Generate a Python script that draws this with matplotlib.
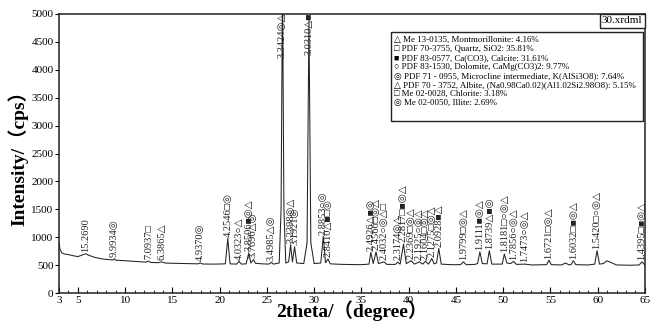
import numpy as np
import matplotlib
matplotlib.use("Agg")
import matplotlib.pyplot as plt
from matplotlib.patches import Rectangle

# XRD pattern, points (2theta in degrees, intensity in cps)
two_theta = [3.0, 3.1, 3.3, 3.6, 4.0, 4.5, 5.0, 5.4, 5.8, 6.2,
             6.8, 7.5, 8.3, 8.7, 8.85, 9.0, 9.6, 10.5, 11.5, 12.2,
             12.47, 12.7, 13.5, 13.86, 14.2, 15.0, 16.5, 17.7, 17.95, 18.2,
             19.5, 20.6, 20.86, 21.1, 21.8, 22.03, 22.3, 22.8, 23.08, 23.3,
             23.58, 23.8, 24.5, 25.2, 25.44, 25.7, 26.3, 26.5, 26.65, 26.8,
             27.0, 27.3, 27.51, 27.7, 27.93, 28.15, 28.9, 29.25, 29.45, 29.65,
             30.0, 30.7, 30.97, 31.2, 31.46, 31.7, 33.0, 35.0, 35.8, 36.0,
             36.25, 36.55, 36.8, 37.39, 37.7, 38.6, 38.83, 39.1, 39.46, 39.75,
             40.28, 40.6, 41.14, 41.5, 41.77, 42.1, 42.45, 42.7, 42.95, 43.19,
             43.45, 44.5, 45.5, 45.79, 46.1, 47.0, 47.3, 47.54, 47.8, 48.3,
             48.54, 48.8, 49.9, 50.13, 50.4, 50.8, 51.11, 51.4, 52.31, 53.0,
             54.6, 54.86, 55.1, 56.2, 56.6, 57.0, 57.2, 57.43, 57.7, 59.0,
             59.7, 59.94, 60.2, 60.6, 61.0, 61.4, 62.0, 63.5, 64.4, 64.7,
             65.0]
intensity = [900, 790, 720, 700, 690, 670, 655, 680, 705, 675,
             640, 615, 600, 595, 615, 590, 585, 575, 565, 555,
             575, 550, 545, 560, 540, 535, 530, 525, 540, 522,
             520, 525, 980, 525, 520, 570, 520, 525, 720, 540,
             600, 535, 525, 520, 550, 520, 540, 1500, 5600, 1500,
             540, 560, 860, 560, 830, 540, 530, 900, 4900, 900,
             530, 540, 1020, 545, 610, 525, 515, 510, 520, 730,
             530, 740, 530, 560, 515, 515, 555, 520, 880, 530,
             580, 520, 560, 520, 570, 520, 620, 525, 540, 800,
             520, 510, 510, 560, 510, 515, 530, 740, 530, 525,
             760, 520, 520, 700, 540, 530, 570, 515, 520, 505,
             510, 590, 510, 505, 540, 505, 515, 580, 510, 505,
             520, 760, 520, 530, 580, 550, 505, 500, 505, 560,
             505]

peak_pos = [5.79, 8.85, 12.47, 13.86, 17.95, 20.86, 22.03, 23.08, 23.58, 25.44,
            26.65, 27.51, 27.93, 29.45, 30.97, 31.46, 36.0, 36.55, 37.39, 38.83,
            39.46, 40.28, 41.14, 41.77, 42.45, 43.19, 45.79, 47.54, 48.54, 50.13,
            51.11, 52.31, 54.86, 57.43, 59.94, 64.7]
peak_labels = ["15.2690", "9.9934◎", "7.0937□", "6.3865△", "4.9370◎",
               "4.2546□◎", "4.0323○△", "3.8506■◎△", "3.7696△◎", "3.4985△◎",
               "3.3424◎△", "3.2398◎△", "3.1921◎", "3.0310△■", "2.8853○◎",
               "2.8410△■□◎", "2.4926△■◎", "2.4566□◎△", "2.4032○◎△□", "2.3174◎△",
               "2.2817□■◎△", "2.2369□◎△", "2.1925○◎△", "2.1604□◎△", "2.1275□◎△",
               "2.0928■△", "1.9799□◎△", "1.9111■◎△", "1.8739△■◎", "1.8181□○◎△",
               "1.7856○◎△", "1.7473○◎△", "1.6721□◎△", "1.6032□■◎△", "1.5420□○◎△",
               "1.4395□■◎△"]

phases = ["△ Me 13-0135, Montmorillonite: 4.16%",
          "□ PDF 70-3755, Quartz, SiO2: 35.81%",
          "■ PDF 83-0577, Ca(CO3), Calcite: 31.61%",
          "○ PDF 83-1530, Dolomite, CaMg(CO3)2: 9.77%",
          "◎ PDF 71 - 0955, Microcline intermediate, K(AlSi3O8): 7.64%",
          "△ PDF 70 - 3752, Albite, (Na0.98Ca0.02)(Al1.02Si2.98O8): 5.15%",
          "□ Me 02-0028, Chlorite: 3.18%",
          "◎ Me 02-0050, Illite: 2.69%"]
file_name = "30.xrdml"

x_ticks = [3, 5, 10, 15, 20, 25, 30, 35, 40, 45, 50, 55, 60, 65]
y_ticks = [0, 500, 1000, 1500, 2000, 2500, 3000, 3500, 4000, 4500, 5000]

plt.rcParams['font.family'] = ['Liberation Serif', 'DejaVu Sans', 'Noto Sans CJK SC']

fig = plt.figure(figsize=(6.56, 3.25), dpi=100)
ax = fig.add_axes([0.09, 0.098, 0.893, 0.859])

ax.plot(two_theta, intensity, color='#222222', lw=0.75)
ax.set_xlim(3, 65)
ax.set_ylim(0, 5000)
ax.set_xticks(x_ticks)
ax.set_xticks(np.arange(3, 66, 1), minor=True)
ax.set_yticks(y_ticks)
ax.tick_params(axis='x', which='major', direction='in', length=4, labelsize=8, pad=2)
ax.tick_params(axis='x', which='minor', direction='in', length=2)
ax.tick_params(axis='y', direction='out', length=3, labelsize=8, pad=1)
for s in ax.spines.values():
    s.set_linewidth(1.1)
    s.set_color('#222222')

ax.set_xlabel("2theta/（degree）", fontsize=14, fontweight='bold', labelpad=-3)
ax.set_ylabel("Intensity/（cps）", fontsize=14, fontweight='bold', labelpad=2)

# peak labels, vertical, sitting on top of each peak
for pos, lab in zip(peak_pos, peak_labels):
    h = np.interp(pos, two_theta, intensity)
    if h > 4000:
        ax.text(pos, 5030, lab, rotation=90, ha='center', va='top',
                fontsize=7.5, color='#222222')
    else:
        ax.text(pos, h + 30, lab, rotation=90, ha='center', va='bottom',
                fontsize=7.5, color='#222222')

# phase list box
ax.add_patch(Rectangle((0.567, 0.616), 0.43, 0.319, transform=ax.transAxes,
                       fill=True, fc='white', ec='#222222', lw=1, zorder=3))
ax.text(0.572, 0.922, "\n".join(phases), transform=ax.transAxes,
        ha='left', va='top', fontsize=6.4, linespacing=1.18, zorder=4)

ax.text(0.996, 0.975, file_name, transform=ax.transAxes, ha='right', va='center',
        fontsize=8, bbox=dict(boxstyle='square,pad=0.2', fc='white', ec='#222222', lw=1))

fig.savefig("out.png", dpi=100)
